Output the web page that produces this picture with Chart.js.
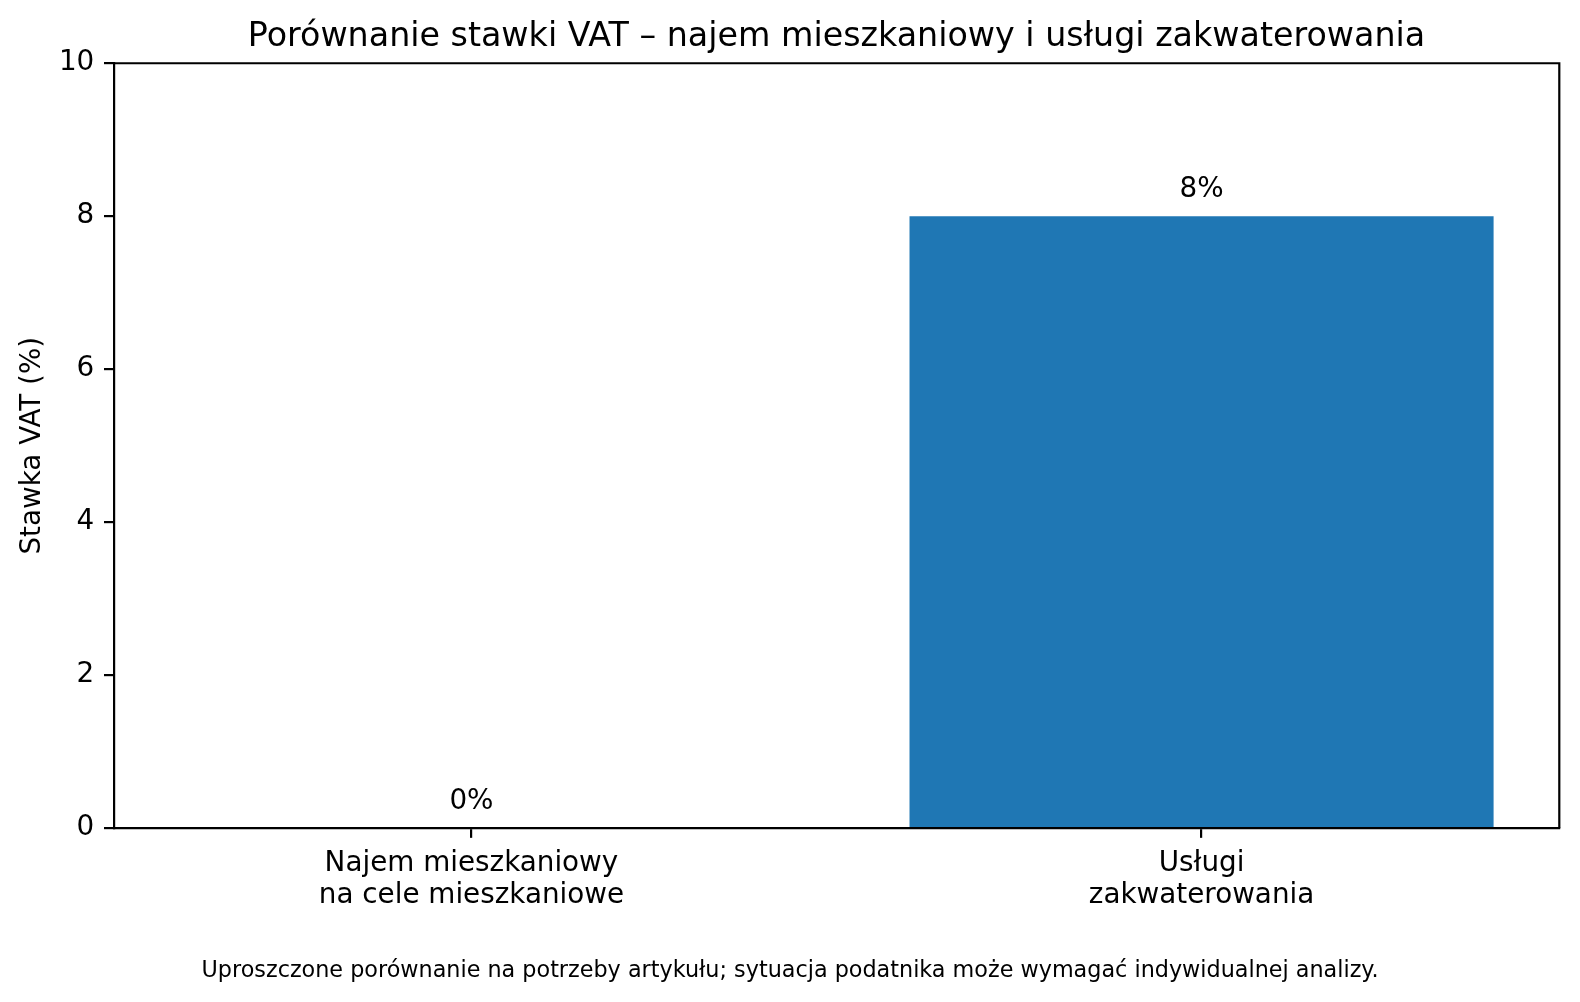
<!DOCTYPE html>
<html>
<head>
<meta charset="utf-8">
<script src="https://cdn.jsdelivr.net/npm/chart.js@4"></script>
<style>
  html, body { margin: 0; padding: 0; background: #fff; }
  #wrap { width: 1580px; height: 1002px; }
</style>
</head>
<body>
<div id="wrap"><canvas id="c" width="1580" height="1002"></canvas></div>
<script>
const categories = [
  ['Najem mieszkaniowy', 'na cele mieszkaniowe'],
  ['Usługi', 'zakwaterowania']
];
const vatRates = [0, 8];
const yTicks = [0, 2, 4, 6, 8, 10];
const titleText = 'Porównanie stawki VAT – najem mieszkaniowy i usługi zakwaterowania';
const yLabel = 'Stawka VAT (%)';
const footnote = 'Uproszczone porównanie na potrzeby artykułu; sytuacja podatnika może wymagać indywidualnej analizy.';

const FONT = "'DejaVu Sans', sans-serif";
const LW = 2.2;

const frame = {
  id: 'frame',
  afterDraw(chart) {
    const {ctx, chartArea: a} = chart;
    ctx.save();
    ctx.strokeStyle = '#000';
    ctx.lineWidth = LW;
    ctx.beginPath();
    ctx.moveTo(a.left, a.top);
    ctx.lineTo(a.right, a.top);
    ctx.lineTo(a.right, a.bottom);
    ctx.stroke();
    ctx.restore();
  }
};

const valueLabels = {
  id: 'valueLabels',
  afterDatasetsDraw(chart) {
    const {ctx} = chart;
    const meta = chart.getDatasetMeta(0);
    ctx.save();
    ctx.font = '27.8px ' + FONT;
    ctx.fillStyle = '#000';
    ctx.textAlign = 'center';
    ctx.textBaseline = 'alphabetic';
    meta.data.forEach((bar, i) => {
      ctx.fillText(vatRates[i] + '%', bar.x, bar.y - 19);
    });
    ctx.restore();
  }
};

new Chart(document.getElementById('c'), {
  type: 'bar',
  data: {
    datasets: [{
      data: vatRates.map((v, i) => ({x: i, y: v})),
      xAxisID: 'x',
      yAxisID: 'y',
      backgroundColor: '#1f77b4',
      borderWidth: 0,
      barPercentage: 0.8,
      categoryPercentage: 1.0
    }]
  },
  options: {
    responsive: false,
    animation: false,
    layout: { padding: { left: 0, right: 0, top: 0, bottom: 0 } },
    plugins: {
      legend: { display: false },
      tooltip: { enabled: false },
      title: {
        display: true,
        text: titleText,
        fullSize: false,
        color: '#000',
        font: { family: FONT, size: 33.3, weight: 'normal', lineHeight: 1.2 },
        padding: { top: 17, bottom: 6.3 }
      },
      subtitle: {
        display: true,
        text: footnote,
        position: 'bottom',
        color: '#000',
        font: { family: FONT, size: 22.3, weight: 'normal', lineHeight: 1.2 },
        padding: { top: 0, bottom: 17.2 }
      }
    },
    scales: {
      x: {
        type: 'linear',
        min: -0.49,
        max: 1.49,
        offset: false,
        afterBuildTicks(scale) {
          scale.ticks = categories.map((c, i) => ({value: i}));
        },
        afterFit(scale) { scale.height = 129.9; },
        ticks: {
          color: '#000',
          font: { family: FONT, size: 27.8, lineHeight: 1.15 },
          padding: 9.7,
          maxRotation: 0,
          autoSkip: false,
          callback: (v) => categories[v]
        },
        grid: {
          display: true,
          offset: false,
          drawOnChartArea: false,
          drawTicks: true,
          tickLength: 9.7,
          tickWidth: LW,
          lineWidth: LW,
          tickColor: '#000',
          color: '#000'
        },
        border: { display: true, color: '#000', width: LW }
      },
      y: {
        type: 'linear',
        position: 'left',
        min: 0,
        max: 10,
        afterBuildTicks(scale) {
          scale.ticks = yTicks.map(v => ({value: v}));
        },
        afterFit(scale) { scale.width = 113.7; },
        ticks: {
          color: '#000',
          font: { family: FONT, size: 27.8 },
          padding: 9.7,
          callback: (v) => String(v)
        },
        grid: {
          display: true,
          offset: false,
          drawOnChartArea: false,
          drawTicks: true,
          tickLength: 9.7,
          tickWidth: LW,
          lineWidth: LW,
          tickColor: '#000',
          color: '#000'
        },
        border: { display: true, color: '#000', width: LW },
        title: {
          display: true,
          text: yLabel,
          color: '#000',
          font: { family: FONT, size: 27.8, lineHeight: 1.2 },
          padding: { top: 15.8, bottom: 0 }
        }
      },
      yRight: {
        type: 'linear',
        position: 'right',
        display: true,
        min: 0,
        max: 10,
        afterFit(scale) { scale.width = 20.7; },
        ticks: { display: false },
        grid: { display: false, drawTicks: false },
        border: { display: false }
      }
    }
  },
  plugins: [frame, valueLabels]
});
</script>
</body>
</html>
